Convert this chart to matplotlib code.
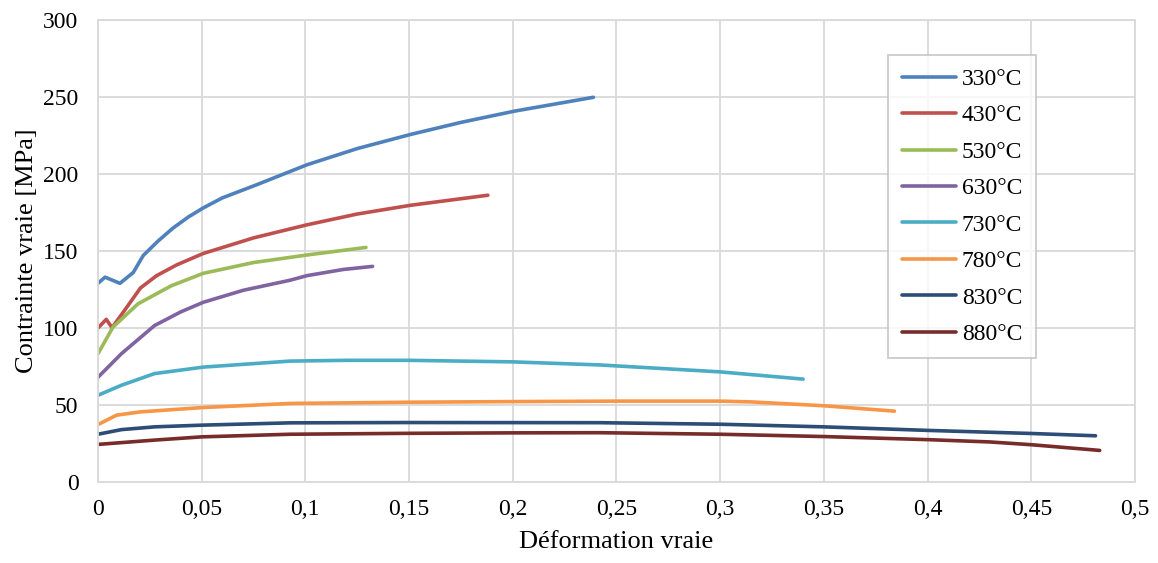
import matplotlib.pyplot as plt

plt.rcParams['font.family'] = ['Liberation Serif', 'DejaVu Serif']

# Courbes contrainte-déformation
x330 = [0, 0.0034, 0.0106, 0.017, 0.0218, 0.029, 0.0363, 0.0435, 0.0508, 0.06, 0.0765, 0.1008, 0.125, 0.1508, 0.175, 0.2008, 0.2389]
y330 = [129, 133, 129, 136, 147, 156.5, 165, 172, 178, 184.5, 193, 206, 216.5, 225.7, 233.5, 240.8, 249.8]

x430 = [0, 0.004, 0.0068, 0.0129, 0.0205, 0.0283, 0.038, 0.0508, 0.075, 0.1008, 0.125, 0.1508, 0.188]
y430 = [100, 105.6, 100.2, 111.6, 126, 134, 141, 148.4, 158.5, 167, 174, 179.7, 186.2]

x530 = [0, 0.0072, 0.0193, 0.0355, 0.0508, 0.075, 0.1008, 0.1292]
y530 = [83.3, 100.5, 115.7, 127.5, 135.5, 142.5, 147.4, 152.3]

x630 = [0, 0.0113, 0.0273, 0.04, 0.0508, 0.0701, 0.0926, 0.1008, 0.1183, 0.1324]
y630 = [68, 83.3, 101.6, 110.5, 116.7, 124.5, 131, 134, 138, 140]

x730 = [0, 0.0113, 0.0273, 0.0508, 0.0926, 0.12, 0.15, 0.2, 0.242, 0.3, 0.34]
y730 = [56.3, 62.8, 70.4, 74.6, 78.5, 79, 79, 78, 76, 71.5, 66.8]

x780 = [0, 0.009, 0.0203, 0.05, 0.0926, 0.15, 0.2, 0.25, 0.3, 0.315, 0.35, 0.384]
y780 = [37.3, 43.4, 45.5, 48.3, 51, 51.8, 52.2, 52.5, 52.5, 52, 49.5, 46]

x830 = [0, 0.0113, 0.0273, 0.05, 0.0926, 0.15, 0.242, 0.3, 0.35, 0.4, 0.45, 0.481]
y830 = [31, 34, 35.8, 36.9, 38.4, 38.6, 38.5, 37.5, 35.8, 33.5, 31.5, 30]

x880 = [0, 0.0273, 0.05, 0.0926, 0.15, 0.2, 0.242, 0.3, 0.35, 0.4, 0.43, 0.45, 0.483]
y880 = [24.4, 27.2, 29.3, 31, 31.6, 31.9, 32, 31, 29.5, 27.5, 26, 24.2, 20.5]

series = [
    (x330, y330, '330°C', '#4F81BD'),
    (x430, y430, '430°C', '#C0504D'),
    (x530, y530, '530°C', '#9BBB59'),
    (x630, y630, '630°C', '#8064A2'),
    (x730, y730, '730°C', '#4BACC6'),
    (x780, y780, '780°C', '#F79646'),
    (x830, y830, '830°C', '#2C4D75'),
    (x880, y880, '880°C', '#772C2A'),
]

fig = plt.figure(figsize=(11.58, 5.63), dpi=100)
ax = fig.add_axes([0.0846, 0.1439, 0.8955, 0.8206])

for xs, ys, lab, col in series:
    ax.plot(xs, ys, color=col, lw=2.6, label=lab,
            solid_capstyle='round', solid_joinstyle='round')

ax.set_xlim(0, 0.5)
ax.set_ylim(0, 300)
ax.set_xticks([i * 0.05 for i in range(11)])
ax.set_xticklabels(['0', '0,05', '0,1', '0,15', '0,2', '0,25', '0,3', '0,35', '0,4', '0,45', '0,5'])
ax.set_yticks(range(0, 301, 50))
ax.grid(True, color='#D9D9D9', lw=1.3)
ax.set_axisbelow(True)
for s in ax.spines.values():
    s.set_color('#D9D9D9')
    s.set_linewidth(1.3)
ax.tick_params(length=0, labelsize=17, colors='black')
ax.tick_params(axis='y', pad=14)
ax.tick_params(axis='x', pad=12)

ax.set_xlabel('Déformation vraie', fontsize=19, labelpad=8)
ax.set_ylabel('Contrainte vraie [MPa]', fontsize=19, labelpad=4)

leg = ax.legend(loc='upper left', bbox_to_anchor=(0.762, 0.924), fontsize=17,
                frameon=True, fancybox=False, handlelength=2.3, handletextpad=0.25,
                labelspacing=0.63, borderpad=0.57, borderaxespad=0)
leg.get_frame().set_edgecolor('#BFBFBF')
leg.get_frame().set_linewidth(1.3)

fig.savefig('out.png', dpi=100)
